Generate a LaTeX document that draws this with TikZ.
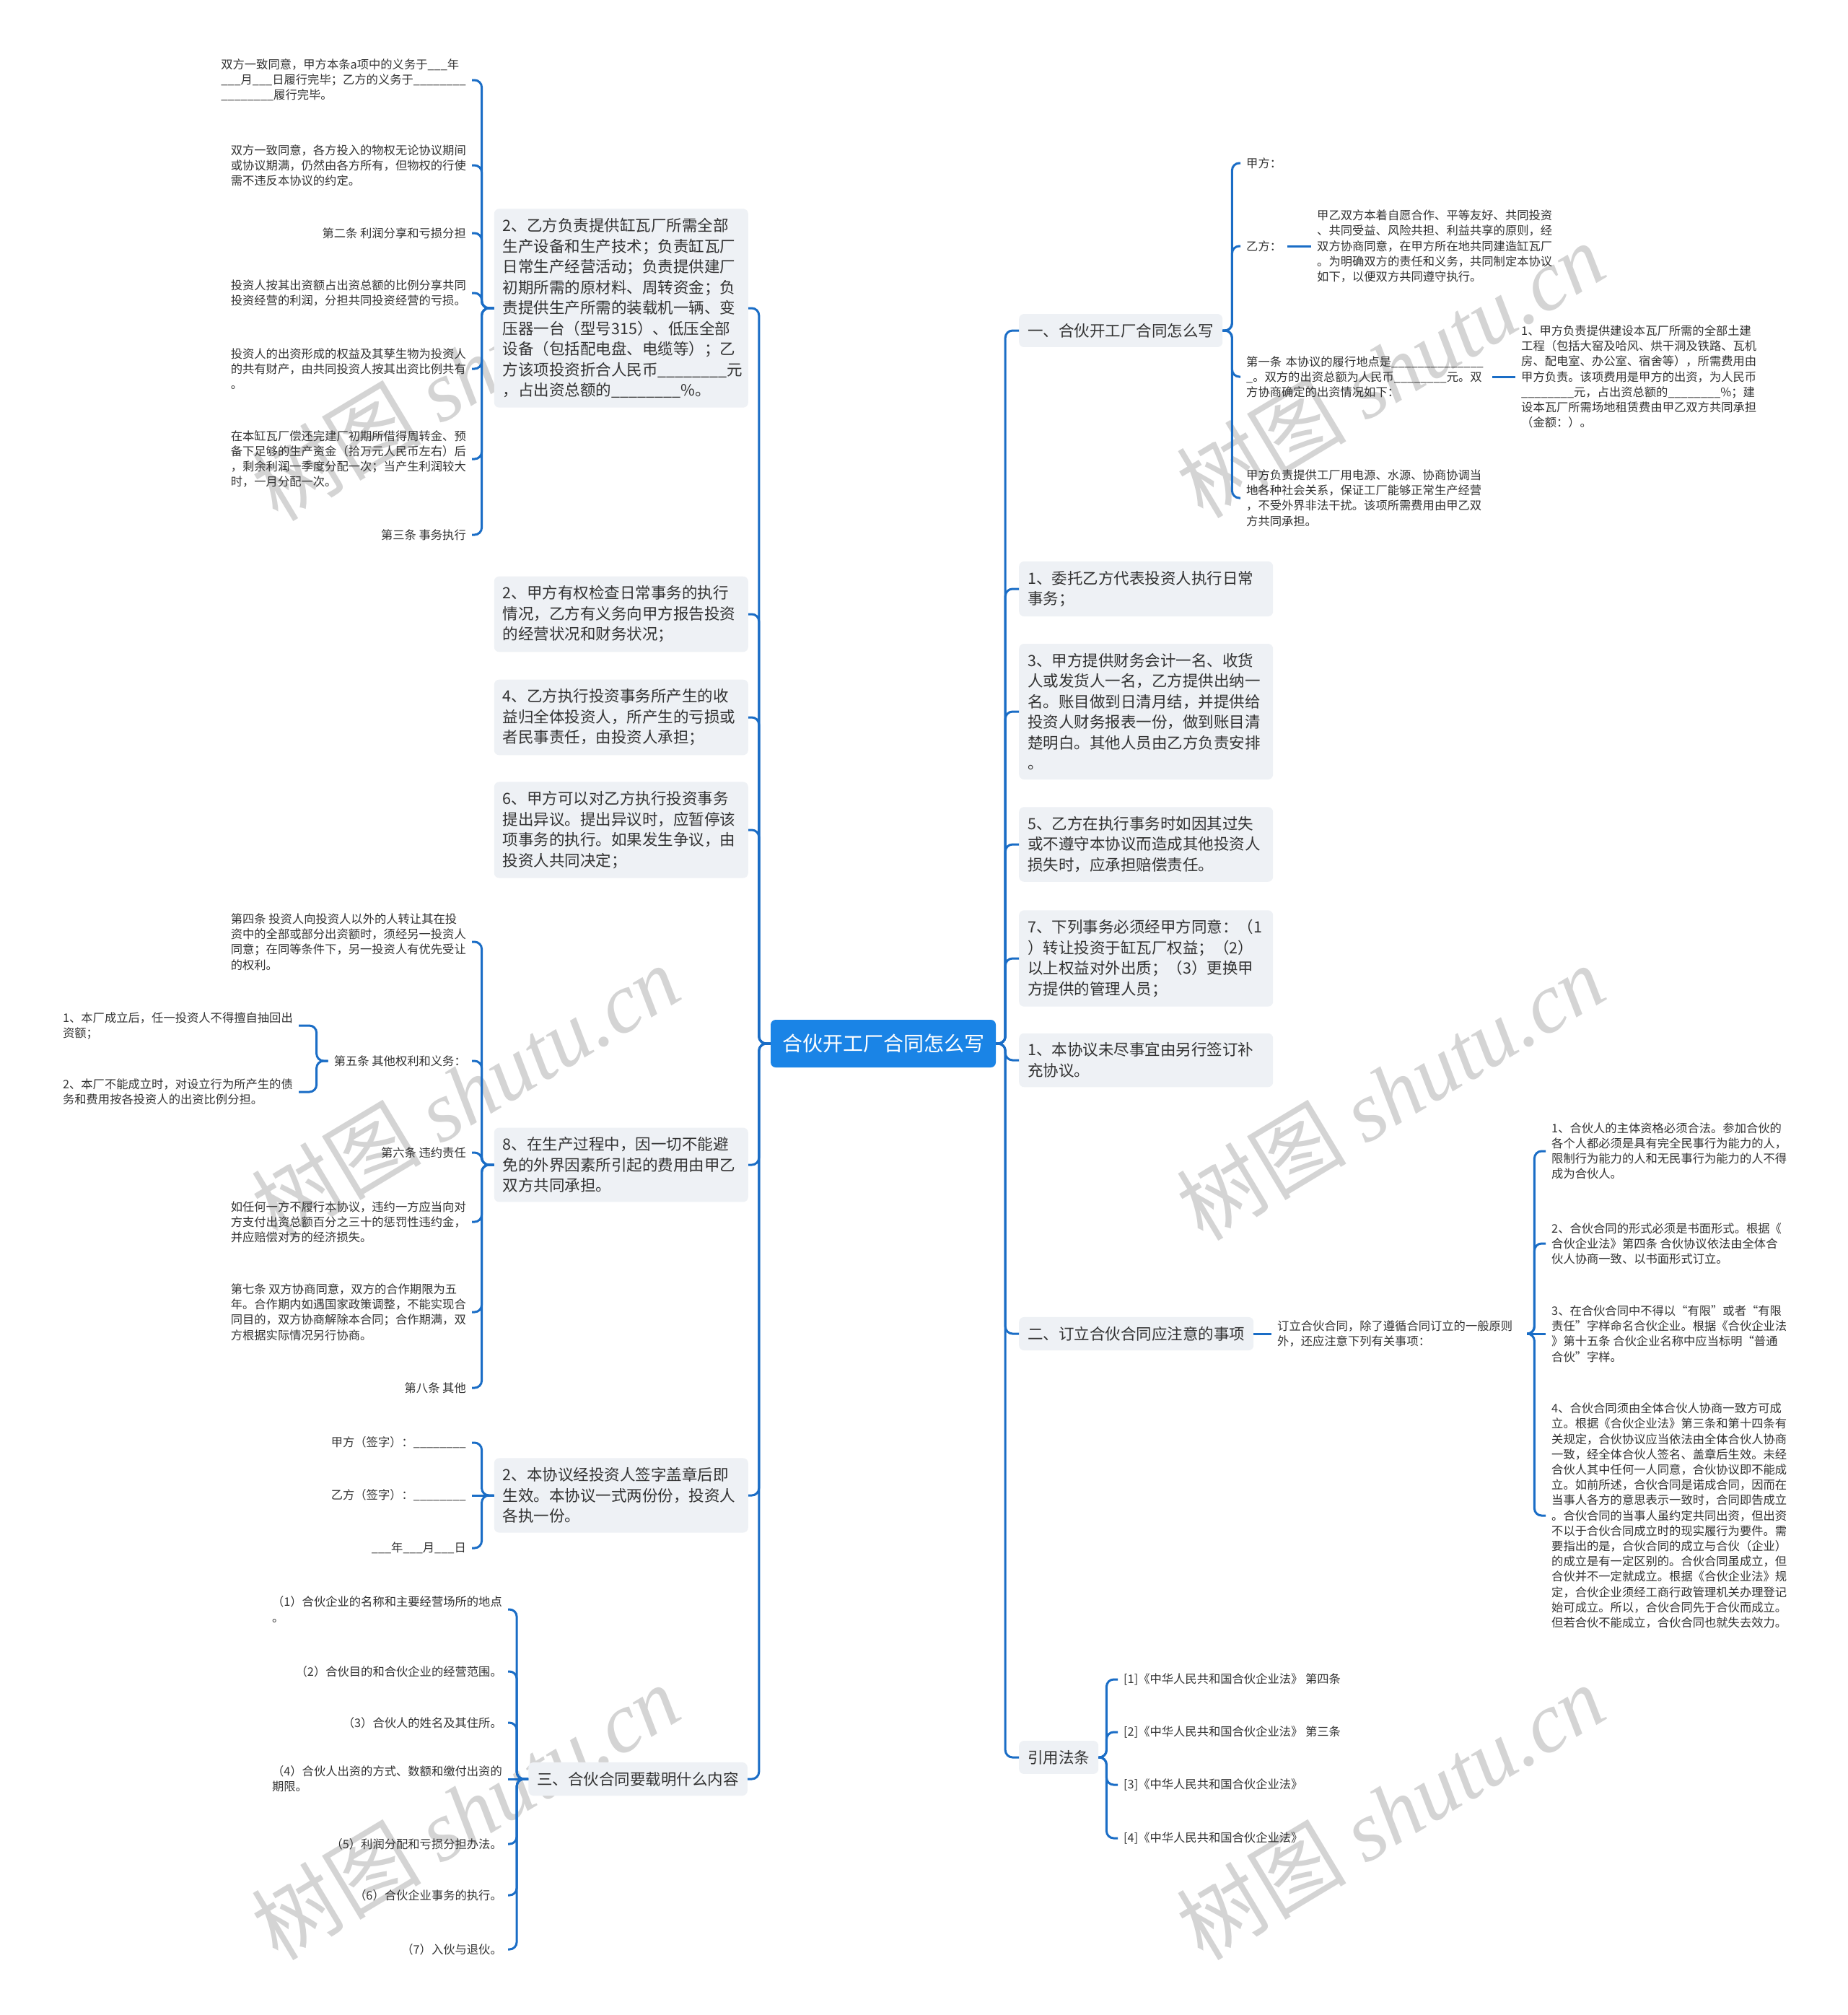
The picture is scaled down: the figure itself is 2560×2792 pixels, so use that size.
\documentclass[tikz,border=0pt]{standalone}
\usepackage{fontspec}
\setmainfont{Noto Sans CJK SC}
\newfontfamily\wmserif{Liberation Serif}
\definecolor{linec}{HTML}{1A6DC6}
\definecolor{rootc}{HTML}{1A84E6}
\definecolor{boxc}{HTML}{EEF1F5}
\definecolor{txtc}{HTML}{333333}
\definecolor{wmc}{HTML}{D4D4D4}
\tikzset{
  conn/.style={draw=linec, line width=3pt, rounded corners=10pt},
  rootbox/.style={fill=rootc, text=white, rounded corners=7pt, font=\fontsize{28}{34}\selectfont, minimum width=312pt, minimum height=66pt, inner sep=0pt},
  topic/.style={fill=boxc, text=txtc, rounded corners=7pt, font=\fontsize{21.5}{28.5}\selectfont, inner xsep=12pt, inner ysep=13pt, align=left},
  topicw/.style={topic, text width=328pt},
  leaf/.style={text=txtc, font=\fontsize{16.3}{21.2}\selectfont, inner xsep=8pt, inner ysep=2pt, align=left},
  wm/.style={text=wmc, rotate=31, font=\fontsize{118}{118}\selectfont, inner sep=0pt}
}
\begin{document}
\begin{tikzpicture}[x=1pt,y=-1pt]
\fill[white] (0,0) rectangle (2560,2792);
\useasboundingbox (0,0) rectangle (2560,2792);

% watermarks
\foreach \i/\x/\y in {1/645/516, 2/1927/512, 3/645/1513, 4/1927/1513, 5/645/2510, 6/1927/2510}
  {\node[wm] (wm\i) at (\x,\y) {树图 {\wmserif\itshape shutu.cn}};}

% root
\node[rootbox] (root) at (1224,1446) {合伙开工厂合同怎么写};

% ---------- right topics ----------
\node[topic, anchor=west] (r1) at (1412,458) {一、合伙开工厂合同怎么写};
\node[topicw, anchor=west] (r2) at (1412,816) {1、委托乙方代表投资人执行日常\\事务；};
\node[topicw, anchor=west] (r3) at (1412,986) {3、甲方提供财务会计一名、收货\\人或发货人一名，乙方提供出纳一\\名。账目做到日清月结，并提供给\\投资人财务报表一份，做到账目清\\楚明白。其他人员由乙方负责安排\\。};
\node[topicw, anchor=west] (r4) at (1412,1170) {5、乙方在执行事务时如因其过失\\或不遵守本协议而造成其他投资人\\损失时，应承担赔偿责任。};
\node[topicw, anchor=west] (r5) at (1412,1328) {7、下列事务必须经甲方同意：（1\\）转让投资于缸瓦厂权益；（2）\\以上权益对外出质；（3）更换甲\\方提供的管理人员；};
\node[topicw, anchor=west] (r6) at (1412,1469) {1、本协议未尽事宜由另行签订补\\充协议。};
\node[topic, anchor=west] (r7) at (1412,1848) {二、订立合伙合同应注意的事项};
\node[topic, anchor=west] (r8) at (1412,2435) {引用法条};

\foreach \n in {r1,r2,r3,r4,r5,r6,r7,r8}
  {\draw[conn] (root.east) -- ++(13,0) |- (\n.west);}

% r1 children
\node[leaf, anchor=west] (a1) at (1719,226) {甲方：};
\node[leaf, anchor=west] (a2) at (1719,341) {乙方：};
\node[leaf, anchor=west] (a2c) at (1817,341) {甲乙双方本着自愿合作、平等友好、共同投资\\、共同受益、风险共担、利益共享的原则，经\\双方协商同意，在甲方所在地共同建造缸瓦厂\\。为明确双方的责任和义务，共同制定本协议\\如下，以便双方共同遵守执行。};
\node[leaf, anchor=west, text width=333pt] (a3) at (1719,522) {第一条 本协议的履行地点是\_\_\_\_\_\_\_\_\_\_\_\_\_\_\\\_。双方的出资总额为人民币\_\_\_\_\_\_\_\_元。双\\方协商确定的出资情况如下：};
\node[leaf, anchor=west] (a3c) at (2100,522) {1、甲方负责提供建设本瓦厂所需的全部土建\\工程（包括大窑及哈风、烘干洞及铁路、瓦机\\房、配电室、办公室、宿舍等），所需费用由\\甲方负责。该项费用是甲方的出资，为人民币\\\_\_\_\_\_\_\_\_元，占出资总额的\_\_\_\_\_\_\_\_\%；建\\设本瓦厂所需场地租赁费由甲乙双方共同承担\\（金额：）。};
\node[leaf, anchor=west] (a4) at (1719,690) {甲方负责提供工厂用电源、水源、协商协调当\\地各种社会关系，保证工厂能够正常生产经营\\，不受外界非法干扰。该项所需费用由甲乙双\\方共同承担。};
\foreach \n in {a1,a2,a3,a4}
  {\draw[conn] (r1.east) -- ++(13,0) |- (\n.west);}
\draw[conn] (a2.east) -- (a2c.west);
\draw[conn] (a3.east) -- (a3c.west);

% r7 children
\node[leaf, anchor=west, text width=338pt] (b) at (1762,1848) {订立合伙合同，除了遵循合同订立的一般原则\\外，还应注意下列有关事项：};
\draw[conn] (r7.east) -- (b.west);
\node[leaf, anchor=west] (c1) at (2142,1595) {1、合伙人的主体资格必须合法。参加合伙的\\各个人都必须是具有完全民事行为能力的人，\\限制行为能力的人和无民事行为能力的人不得\\成为合伙人。};
\node[leaf, anchor=west] (c2) at (2142,1723) {2、合伙合同的形式必须是书面形式。根据《\\合伙企业法》第四条 合伙协议依法由全体合\\伙人协商一致、以书面形式订立。};
\node[leaf, anchor=west] (c3) at (2142,1848) {3、在合伙合同中不得以“有限”或者“有限\\责任”字样命名合伙企业。根据《合伙企业法\\》第十五条 合伙企业名称中应当标明“普通\\合伙”字样。};
\node[leaf, anchor=west] (c4) at (2142,2100) {4、合伙合同须由全体合伙人协商一致方可成\\立。根据《合伙企业法》第三条和第十四条有\\关规定，合伙协议应当依法由全体合伙人协商\\一致，经全体合伙人签名、盖章后生效。未经\\合伙人其中任何一人同意，合伙协议即不能成\\立。如前所述，合伙合同是诺成合同，因而在\\当事人各方的意思表示一致时，合同即告成立\\。合伙合同的当事人虽约定共同出资，但出资\\不以于合伙合同成立时的现实履行为要件。需\\要指出的是，合伙合同的成立与合伙（企业）\\的成立是有一定区别的。合伙合同虽成立，但\\合伙并不一定就成立。根据《合伙企业法》规\\定，合伙企业须经工商行政管理机关办理登记\\始可成立。所以，合伙合同先于合伙而成立。\\但若合伙不能成立，合伙合同也就失去效力。};
\foreach \n in {c1,c2,c4}
  {\draw[conn] (b.east) -- ++(10,0) |- (\n.west);}
\draw[conn] (b.east) -- (c3.west);

% r8 children
\node[leaf, anchor=west] (d1) at (1549,2327) {[1]《中华人民共和国合伙企业法》 第四条};
\node[leaf, anchor=west] (d2) at (1549,2400) {[2]《中华人民共和国合伙企业法》 第三条};
\node[leaf, anchor=west] (d3) at (1549,2473) {[3]《中华人民共和国合伙企业法》};
\node[leaf, anchor=west] (d4) at (1549,2547) {[4]《中华人民共和国合伙企业法》};
\foreach \n in {d1,d2,d3,d4}
  {\draw[conn] (r8.east) -- ++(11,0) |- (\n.west);}

% ---------- left topics ----------
\node[topicw, anchor=east] (l1) at (1037,427) {2、乙方负责提供缸瓦厂所需全部\\生产设备和生产技术；负责缸瓦厂\\日常生产经营活动；负责提供建厂\\初期所需的原材料、周转资金；负\\责提供生产所需的装载机一辆、变\\压器一台（型号315）、低压全部\\设备（包括配电盘、电缆等）；乙\\方该项投资折合人民币\_\_\_\_\_\_\_\_元\\，占出资总额的\_\_\_\_\_\_\_\_\%。};
\node[topicw, anchor=east] (l2) at (1037,851) {2、甲方有权检查日常事务的执行\\情况，乙方有义务向甲方报告投资\\的经营状况和财务状况；};
\node[topicw, anchor=east] (l3) at (1037,994) {4、乙方执行投资事务所产生的收\\益归全体投资人，所产生的亏损或\\者民事责任，由投资人承担；};
\node[topicw, anchor=east] (l4) at (1037,1150) {6、甲方可以对乙方执行投资事务\\提出异议。提出异议时，应暂停该\\项事务的执行。如果发生争议，由\\投资人共同决定；};
\node[topicw, anchor=east] (l5) at (1037,1614) {8、在生产过程中，因一切不能避\\免的外界因素所引起的费用由甲乙\\双方共同承担。};
\node[topicw, anchor=east] (l6) at (1037,2072) {2、本协议经投资人签字盖章后即\\生效。本协议一式两份份，投资人\\各执一份。};
\node[topic, anchor=east] (l7) at (1036,2465) {三、合伙合同要载明什么内容};

\foreach \n in {l1,l2,l3,l4,l5,l6,l7}
  {\draw[conn] (root.west) -- ++(-16,0) |- (\n.east);}

% l1 children
\node[leaf, anchor=east] (e1) at (654,111) {双方一致同意，甲方本条a项中的义务于\_\_\_年\\\_\_\_月\_\_\_日履行完毕；乙方的义务于\_\_\_\_\_\_\_\_\\\_\_\_\_\_\_\_\_履行完毕。};
\node[leaf, anchor=east] (e2) at (654,229) {双方一致同意，各方投入的物权无论协议期间\\或协议期满，仍然由各方所有，但物权的行使\\需不违反本协议的约定。};
\node[leaf, anchor=east] (e3) at (654,323) {第二条 利润分享和亏损分担};
\node[leaf, anchor=east] (e4) at (654,406) {投资人按其出资额占出资总额的比例分享共同\\投资经营的利润，分担共同投资经营的亏损。};
\node[leaf, anchor=east] (e5) at (654,511) {投资人的出资形成的权益及其孳生物为投资人\\的共有财产，由共同投资人按其出资比例共有\\。};
\node[leaf, anchor=east] (e6) at (654,636) {在本缸瓦厂偿还完建厂初期所借得周转金、预\\备下足够的生产资金（拾万元人民币左右）后\\，剩余利润一季度分配一次；当产生利润较大\\时，一月分配一次。};
\node[leaf, anchor=east] (e7) at (654,741) {第三条 事务执行};
\foreach \n in {e1,e2,e3,e4,e5,e6,e7}
  {\draw[conn] (l1.west) -- ++(-17,0) |- (\n.east);}

% l5 children
\node[leaf, anchor=east] (f1) at (654,1305) {第四条 投资人向投资人以外的人转让其在投\\资中的全部或部分出资额时，须经另一投资人\\同意；在同等条件下，另一投资人有优先受让\\的权利。};
\node[leaf, anchor=east] (f2) at (654,1470) {第五条 其他权利和义务：};
\node[leaf, anchor=east] (f3) at (654,1597) {第六条 违约责任};
\node[leaf, anchor=east] (f4) at (654,1693) {如任何一方不履行本协议，违约一方应当向对\\方支付出资总额百分之三十的惩罚性违约金，\\并应赔偿对方的经济损失。};
\node[leaf, anchor=east] (f5) at (654,1818) {第七条 双方协商同意，双方的合作期限为五\\年。合作期内如遇国家政策调整，不能实现合\\同目的，双方协商解除本合同；合作期满，双\\方根据实际情况另行协商。};
\node[leaf, anchor=east] (f6) at (654,1923) {第八条 其他};
\foreach \n in {f1,f2,f3,f4,f5,f6}
  {\draw[conn] (l5.west) -- ++(-17,0) |- (\n.east);}
\node[leaf, anchor=east] (g1) at (414,1421) {1、本厂成立后，任一投资人不得擅自抽回出\\资额；};
\node[leaf, anchor=east] (g2) at (414,1513) {2、本厂不能成立时，对设立行为所产生的债\\务和费用按各投资人的出资比例分担。};
\foreach \n in {g1,g2}
  {\draw[conn] (f2.west) -- ++(-16,0) |- (\n.east);}

% l6 children
\node[leaf, anchor=east] (h1) at (654,1999) {甲方（签字）：\_\_\_\_\_\_\_\_};
\node[leaf, anchor=east] (h2) at (654,2072) {乙方（签字）：\_\_\_\_\_\_\_\_};
\node[leaf, anchor=east] (h3) at (654,2145) {\_\_\_年\_\_\_月\_\_\_日};
\draw[conn] (l6.west) -- ++(-17,0) |- (h1.east);
\draw[conn] (l6.west) -- (h2.east);
\draw[conn] (l6.west) -- ++(-17,0) |- (h3.east);

% l7 children
\node[leaf, anchor=east] (k1) at (704,2230) {（1）合伙企业的名称和主要经营场所的地点\\。};
\node[leaf, anchor=east] (k2) at (704,2316) {（2）合伙目的和合伙企业的经营范围。};
\node[leaf, anchor=east] (k3) at (704,2387) {（3）合伙人的姓名及其住所。};
\node[leaf, anchor=east] (k4) at (704,2465) {（4）合伙人出资的方式、数额和缴付出资的\\期限。};
\node[leaf, anchor=east] (k5) at (704,2555) {（5）利润分配和亏损分担办法。};
\node[leaf, anchor=east] (k6) at (704,2626) {（6）合伙企业事务的执行。};
\node[leaf, anchor=east] (k7) at (704,2701) {（7）入伙与退伙。};
\foreach \n in {k1,k2,k3,k5,k6,k7}
  {\draw[conn] (l7.west) -- ++(-16,0) |- (\n.east);}
\draw[conn] (l7.west) -- (k4.east);
\end{tikzpicture}
\end{document}
